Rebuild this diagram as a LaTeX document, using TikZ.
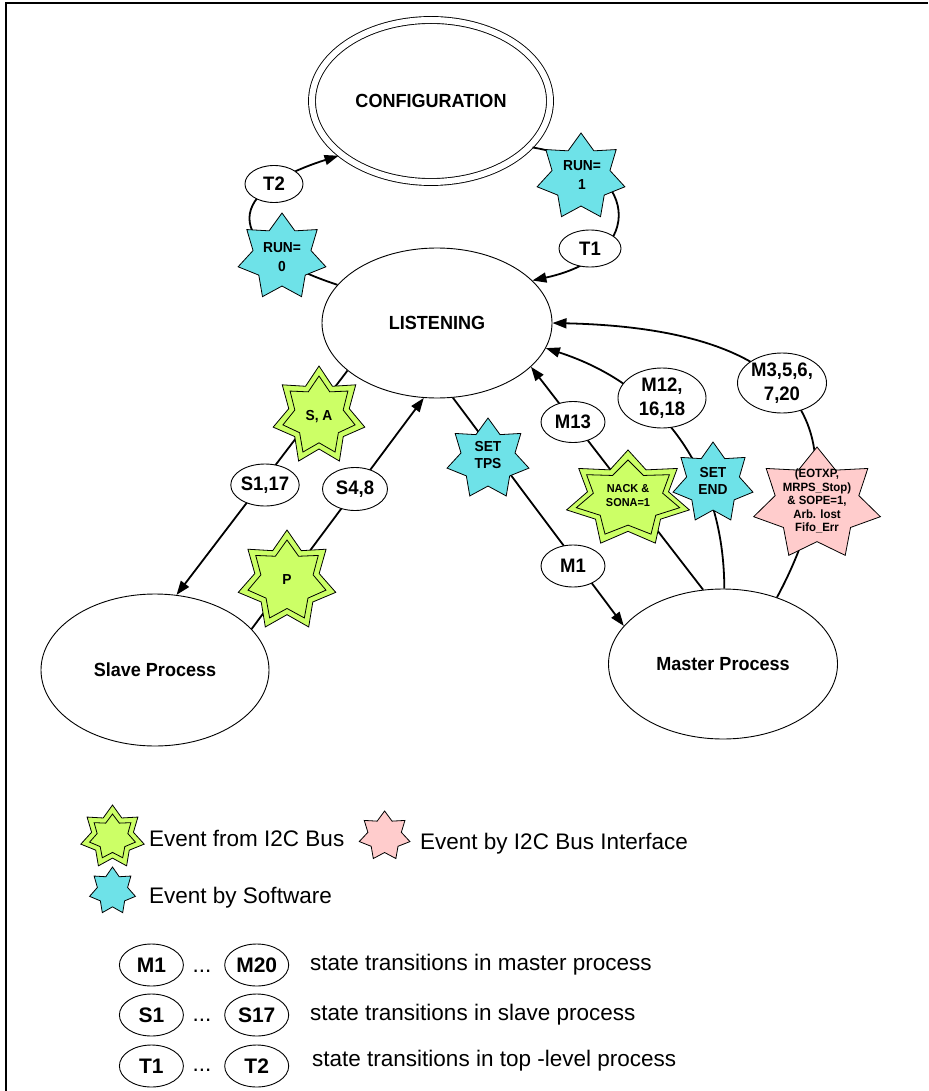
\documentclass[tikz,border=0pt]{standalone}
\usepackage{fontspec}
\setmainfont{Liberation Sans}
\newfontfamily\lblfont[FakeStretch=0.95]{Liberation Sans}
\usetikzlibrary{shapes.geometric,arrows.meta}
\definecolor{swblue}{RGB}{110,226,232}
\definecolor{busgreen}{RGB}{204,255,102}
\definecolor{ifpink}{RGB}{255,204,204}
% seven-pointed star: x, y, rx, ry, inner ratio, fill
\newcommand\evstar[6]{%
  \path[draw=black,line width=0.8pt,fill=#6] ({#1},{(#2)-(#4)})
    \foreach \k in {0,...,6}{
      -- ({(#1)+(#5)*(#3)*cos(90+(\k+0.5)*360/7)},{(#2)-(#5)*(#4)*sin(90+(\k+0.5)*360/7)})
      -- ({(#1)+(#3)*cos(90+(\k+1)*360/7)},{(#2)-(#4)*sin(90+(\k+1)*360/7)})
    } -- cycle;}
% double-outlined green star: x, y, rx, ry, offset
\newcommand\busstar[5]{%
  \evstar{#1}{#2}{#3}{#4}{0.66}{busgreen}%
  \evstar{#1}{#2}{(#3)-(#5)}{(#4)-(#5)}{0.67}{busgreen}}
\begin{document}
\begin{tikzpicture}[x=1pt,y=-1pt,
  state/.style={ellipse,draw,line width=0.9pt,fill=white,inner sep=0pt,
    font=\lblfont\bfseries\fontsize{19}{21}\selectfont},
  trans/.style={ellipse,draw,line width=0.9pt,fill=white,inner sep=0pt,align=center,
    font=\lblfont\bfseries\fontsize{19.5}{24}\selectfont},
  legell/.style={ellipse,draw,line width=0.9pt,fill=white,inner sep=0pt,
    minimum width=64pt,minimum height=42pt,
    font=\bfseries\fontsize{21}{24}\selectfont},
  conn/.style={line width=1.8pt},
  arr/.style={conn,-{Triangle[length=14pt,width=10pt]}},
  evtext/.style={align=center,inner sep=0pt,
    font=\lblfont\bfseries\fontsize{14.5}{17}\selectfont},
  smalltext/.style={align=center,inner sep=0pt,
    font=\lblfont\bfseries\fontsize{12}{13.5}\selectfont},
  legtext/.style={inner sep=0pt,anchor=base west,
    font=\fontsize{22.5}{26}\selectfont},
  dots/.style={inner sep=0pt,anchor=base,font=\fontsize{22.5}{26}\selectfont}]
\useasboundingbox (0,0) rectangle (928,1091);
\fill[white] (0,0) rectangle (928,1091);
\draw[line width=1.3pt] (6,1091) -- (6,3) -- (928,3);

% states
\node[state,double,double distance=6pt,minimum width=238pt,minimum height=162pt] (conf) at (431,101) {CONFIGURATION};
\node[state,minimum width=230pt,minimum height=150pt] (listen) at (437,323) {LISTENING};
\node[state,minimum width=228pt,minimum height=152pt] (slave) at (155,670) {Slave Process};
\node[state,minimum width=229pt,minimum height=150pt] (master) at (723,664) {Master Process};

% connectors
\draw[arr,shorten >=3pt] (listen.159.5) .. controls (230,250) and (215,195) .. (conf.211.5);
\draw[arr,shorten <=3pt] (conf.-25.9) .. controls (640,165) and (650,255) .. (listen.24);
\draw[arr] (listen.208.8) -- (slave.74);
\draw[arr] (slave.23.4) -- (listen.260);
\draw[arr] (listen.282) -- (master.159.3);
\draw[arr] (master.105) -- (listen.335);
\draw[arr] (master.89) .. controls (724,470) and (660,385) .. (listen.347.3);
\draw[arr] (master.51) .. controls (840,480) and (860,330) .. (listen.0);

% event stars
\evstar{581}{177}{45}{44}{0.66}{swblue}
\node[evtext,font=\lblfont\bfseries\fontsize{14.5}{19}\selectfont] (run1) at (582,175) {RUN=\\1};
\evstar{282}{257}{45}{44}{0.66}{swblue}
\node[evtext,font=\lblfont\bfseries\fontsize{14.5}{19}\selectfont] (run0) at (282,257) {RUN=\\0};
\busstar{319}{416}{47}{50}{10}
\node[evtext] (sa) at (319,417) {S, A};
\busstar{287}{581}{50}{51}{10}
\node[evtext] (pev) at (287,580) {P};
\evstar{488}{459}{42}{41}{0.66}{swblue}
\node[evtext] (settps) at (488,455) {SET\\TPS};
\busstar{628}{499}{63}{49}{10}
\node[smalltext,font=\lblfont\bfseries\fontsize{11.5}{14}\selectfont] (nack) at (628,496) {NACK \&\\SONA=1};
\evstar{713}{483}{41}{41}{0.66}{swblue}
\node[evtext] (setend) at (713,481) {SET\\END};
\evstar{817}{504}{65}{57}{0.66}{ifpink}
\node[smalltext] (errs) at (817,501) {(EOTXP,\\MRPS\_Stop)\\\& SOPE=1,\\Arb. lost\\Fifo\_Err};

% transition labels
\node[trans,minimum width=58pt,minimum height=37pt] (t2) at (274,184) {T2};
\node[trans,minimum width=62pt,minimum height=37pt] (t1) at (590,248.5) {T1};
\node[trans,minimum width=63pt,minimum height=42pt] (s117) at (265,485) {S1,17};
\node[trans,minimum width=65pt,minimum height=43pt] (s48) at (355,489) {S4,8};
\node[trans,minimum width=64pt,minimum height=41pt] (m13) at (573,422) {M13};
\node[trans,minimum width=88pt,minimum height=60pt] (m12) at (662,398) {M12,\\16,18};
\node[trans,minimum width=89pt,minimum height=60pt] (m3) at (782,383) {M3,5,6,\\7,20};
\node[trans,minimum width=64pt,minimum height=42pt] (m1) at (573,566) {M1};

% legend
\busstar{112.5}{837}{32.5}{32}{9}
\node[legtext] (lg1) at (149,846.7) {Event from I2C Bus};
\evstar{384.6}{836}{26}{25}{0.66}{ifpink}
\node[legtext] (lg2) at (420,849.3) {Event by I2C Bus Interface};
\evstar{112.5}{891}{23.5}{24}{0.66}{swblue}
\node[legtext] (lg3) at (149,903.3) {Event by Software};

\node[legell] (lm1) at (151.4,965) {M1};
\node[dots] (ld1) at (202,972) {...};
\node[legell] (lm20) at (256.7,965) {M20};
\node[legtext] (lt1) at (310,970) {state transitions in master process};
\node[legell] (ls1) at (151.4,1015) {S1};
\node[dots] (ld2) at (202,1021) {...};
\node[legell] (ls17) at (256.7,1015) {S17};
\node[legtext] (lt2) at (310,1020) {state transitions in slave process};
\node[legell] (lt1e) at (151.4,1066) {T1};
\node[dots] (ld3) at (202,1071) {...};
\node[legell] (lt2e) at (256.7,1066) {T2};
\node[legtext] (lt3) at (312,1066.7) {state transitions in top -level process};
\end{tikzpicture}
\end{document}
